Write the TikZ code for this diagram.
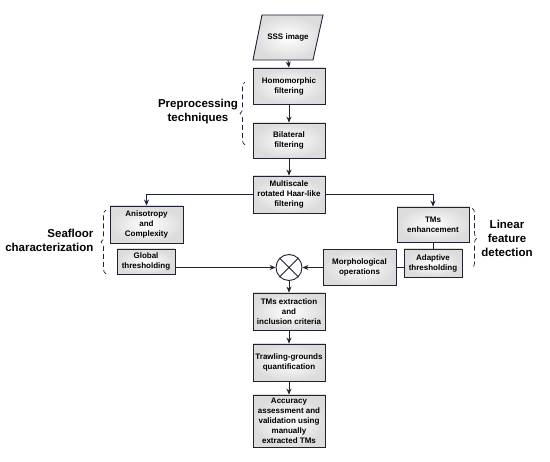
\documentclass[tikz,border=0pt]{standalone}
\usepackage{fontspec}
\setmainfont{Liberation Sans}
\usetikzlibrary{arrows.meta,decorations.pathreplacing,calc}
\definecolor{ink}{HTML}{1F2235}
\definecolor{boxedge}{HTML}{DCDCDC}
\begin{document}
\begin{tikzpicture}[x=1pt,y=-1pt,
  box/.style={draw=ink, line width=0.9pt, inner color=white, outer color=boxedge, inner sep=1pt, align=center,
    font=\bfseries\fontsize{8}{10}\selectfont},
  shapeline/.style={draw=ink, line width=0.9pt, inner color=white, outer color=boxedge},
  arr/.style={draw=ink, line width=0.8pt, -{Stealth[length=6pt,width=5pt]}},
  lin/.style={draw=ink, line width=0.8pt},
  br/.style={draw=ink, dash pattern=on 5pt off 3pt, line width=0.7pt, decorate,
    decoration={brace,amplitude=5pt}},
  lab/.style={font=\bfseries\fontsize{11.5}{14}\selectfont, align=center, text=black}]
\useasboundingbox (0,0) rectangle (550,462);

% SSS image parallelogram
\draw[shapeline] (262,15) -- (323,15) -- (313,60) -- (253,60) -- cycle;
\node[font=\bfseries\fontsize{8}{10}\selectfont, minimum width=60pt, minimum height=45pt, inner sep=0pt] (sss) at (288,37.5) {SSS image};

\node[box, minimum width=72pt, minimum height=36pt] (homo) at (289,86) {Homomorphic\\filtering};
\node[box, minimum width=72pt, minimum height=35pt] (bil) at (289,140.5) {Bilateral\\filtering};
\node[box, minimum width=72pt, minimum height=37pt] (multi) at (289,194.5) {Multiscale\\rotated Haar-like\\filtering};

\node[box, minimum width=73pt, minimum height=37pt] (aniso) at (146.5,224.5) {Anisotropy\\and\\Complexity};
\node[box, minimum width=58pt, minimum height=25pt] (global) at (146,261.5) {Global\\thresholding};

\node[box, minimum width=72pt, minimum height=35pt] (tmsenh) at (433,224.5) {TMs\\enhancement};
\node[box, minimum width=58pt, minimum height=28pt] (adapt) at (433,263) {Adaptive\\thresholding};
\node[box, minimum width=73pt, minimum height=36pt] (morph) at (359.5,267.5) {Morphological\\operations};

\node[draw=ink, circle, line width=0.9pt, fill=white, minimum size=26pt, inner sep=0pt] (mix) at (289,267.5) {};
\draw[ink, line width=0.9pt] (mix.north west) -- (mix.south east) (mix.north east) -- (mix.south west);

\node[box, minimum width=72pt, minimum height=37pt] (tmsext) at (289,311.5) {TMs extraction\\and\\inclusion criteria};
\node[box, minimum width=72pt, minimum height=37pt] (trawl) at (289,362.5) {Trawling-grounds\\quantification};
\node[box, minimum width=72pt, minimum height=52pt] (acc) at (289,421) {Accuracy\\assessment and\\validation using\\manually\\extracted TMs};

% connectors
\draw[arr] (sss.south) -- (homo.north);
\draw[arr] (homo.south) -- (bil.north);
\draw[arr] (bil.south) -- (multi.north);
\draw[arr] (multi.west) -| (aniso.north);
\draw[arr] (multi.east) -| (tmsenh.north);
\draw[lin] (tmsenh.south) -- (adapt.north);
\draw[lin] (adapt.west |- morph.east) -- (morph.east);
\draw[arr] (morph.west) -- (mix.east);
\draw[arr] (global.east |- mix.west) -- (mix.west);
\draw[arr] (mix.south) -- (tmsext.north);
\draw[arr] (tmsext.south) -- (trawl.north);
\draw[arr] (trawl.south) -- (acc.north);

% braces and labels
\draw[br] (245,145) -- (245,82);
\node[lab] (pre) at (198,112) {Preprocessing\\techniques};
\draw[br] (106,274) -- (106,210);
\node[lab, anchor=east, align=right] (sea) at (97,240) {Seafloor\\characterization};
\draw[br] (472,208) -- (472,268);
\node[lab] (lfd) at (507,238) {Linear\\feature\\detection};
\end{tikzpicture}
\end{document}
